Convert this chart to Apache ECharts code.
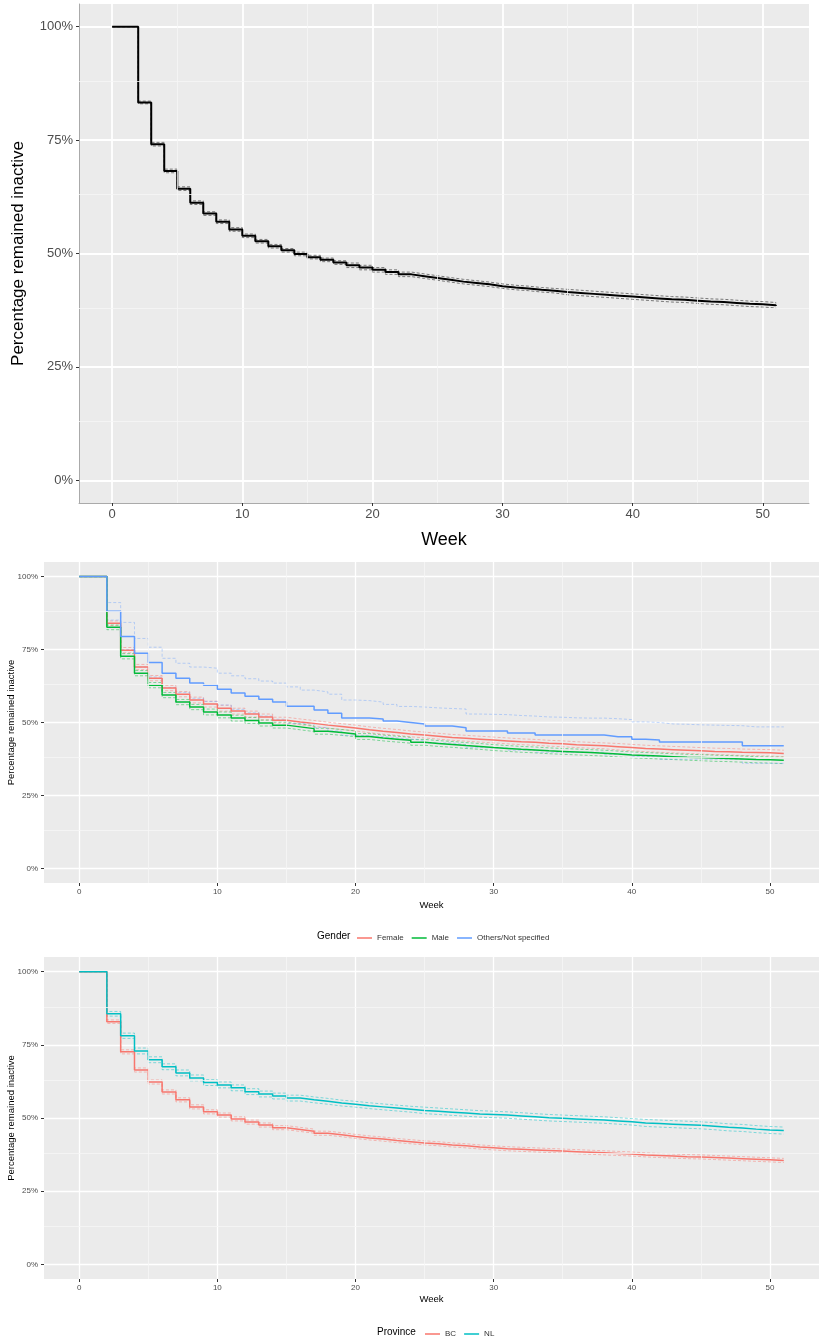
<!doctype html>
<html>
    <head>
        <meta charset="utf-8">
        <title>Percentage remained inactive</title>
        <style>
            html, body { margin: 0; padding: 0; background: #fff; }
            #main { width: 823px; height: 1339px; }
        </style>
    </head>
    <body>
        <div id="main"></div>
        <script src="https://cdn.jsdelivr.net/npm/echarts@6.0.0/dist/echarts.min.js"></script>
        <script>
            // weeks 0..51, one value per week (value after the drop at that week)
            var weeks = [0,1,2,3,4,5,6,7,8,9,10,11,12,13,14,15,16,17,18,19,20,21,22,23,24,25,
                26,27,28,29,30,31,32,33,34,35,36,37,38,39,40,41,42,43,44,45,46,47,48,49,50,51];
            var weekTicks = [0, 10, 20, 30, 40, 50];
            var weekMinor = [5, 15, 25, 35, 45];
            var pctTicks = [0, 0.25, 0.5, 0.75, 1];
            var pctMinor = [0.125, 0.375, 0.625, 0.875];

            // panel 1: everyone
            var allSurv = [1,1,0.833,0.741,0.682,0.643,0.612,0.588,0.570,0.553,0.539,0.527,0.516,0.507,0.499,0.492,0.486,0.480,0.474,0.469,0.464,0.459,0.454,0.450,0.446,0.442,0.438,0.435,0.432,0.428,0.425,0.423,0.420,0.418,0.415,0.413,0.411,0.409,0.407,0.405,0.403,0.401,0.399,0.398,0.396,0.394,0.393,0.391,0.389,0.388,0.386,0.384];
            var allUpper = [1,1,0.836,0.745,0.686,0.647,0.616,0.592,0.574,0.557,0.543,0.531,0.520,0.511,0.503,0.496,0.490,0.484,0.479,0.474,0.469,0.464,0.459,0.455,0.451,0.447,0.443,0.440,0.437,0.433,0.430,0.428,0.425,0.423,0.421,0.419,0.417,0.415,0.413,0.411,0.409,0.407,0.405,0.404,0.402,0.400,0.399,0.397,0.395,0.394,0.392,0.390];
            var allLower = [1,1,0.830,0.737,0.678,0.639,0.608,0.584,0.566,0.549,0.535,0.523,0.512,0.503,0.495,0.488,0.482,0.476,0.469,0.464,0.459,0.454,0.449,0.445,0.441,0.437,0.433,0.430,0.427,0.423,0.420,0.418,0.415,0.413,0.409,0.407,0.405,0.403,0.401,0.399,0.397,0.395,0.393,0.392,0.390,0.388,0.387,0.385,0.383,0.382,0.380,0.378];

            // panel 2: gender
            var femaleSurv = [1,1,0.840,0.748,0.690,0.652,0.618,0.597,0.577,0.563,0.549,0.539,0.529,0.519,0.508,0.502,0.497,0.491,0.486,0.481,0.475,0.470,0.466,0.461,0.457,0.453,0.449,0.446,0.443,0.440,0.437,0.434,0.432,0.429,0.427,0.424,0.422,0.420,0.417,0.414,0.411,0.409,0.407,0.405,0.403,0.401,0.400,0.398,0.397,0.396,0.394,0.393];
            var femaleUpper = [1,1,0.848,0.757,0.699,0.661,0.627,0.606,0.587,0.573,0.559,0.549,0.539,0.529,0.518,0.512,0.507,0.501,0.496,0.491,0.485,0.480,0.476,0.471,0.467,0.463,0.459,0.456,0.453,0.450,0.447,0.444,0.442,0.439,0.437,0.434,0.432,0.430,0.428,0.425,0.422,0.420,0.418,0.416,0.414,0.412,0.411,0.409,0.408,0.407,0.405,0.404];
            var femaleLower = [1,1,0.832,0.739,0.681,0.643,0.609,0.588,0.567,0.553,0.539,0.529,0.519,0.509,0.498,0.492,0.487,0.481,0.476,0.471,0.465,0.460,0.456,0.451,0.447,0.443,0.439,0.436,0.433,0.430,0.427,0.424,0.422,0.419,0.417,0.414,0.412,0.410,0.406,0.403,0.400,0.398,0.396,0.394,0.392,0.390,0.389,0.387,0.386,0.385,0.383,0.382];
            var maleSurv = [1,1,0.826,0.727,0.669,0.628,0.594,0.570,0.553,0.536,0.526,0.515,0.507,0.498,0.491,0.485,0.479,0.470,0.466,0.461,0.452,0.447,0.443,0.439,0.432,0.428,0.425,0.421,0.418,0.414,0.411,0.408,0.406,0.403,0.401,0.399,0.397,0.395,0.392,0.389,0.387,0.385,0.383,0.381,0.380,0.378,0.377,0.375,0.373,0.372,0.371,0.369];
            var maleUpper = [1,1,0.834,0.736,0.678,0.637,0.603,0.579,0.562,0.546,0.536,0.525,0.517,0.508,0.501,0.495,0.489,0.480,0.476,0.471,0.462,0.457,0.453,0.449,0.442,0.438,0.435,0.431,0.428,0.424,0.421,0.418,0.416,0.413,0.411,0.409,0.407,0.405,0.402,0.399,0.397,0.395,0.393,0.391,0.390,0.388,0.387,0.385,0.383,0.382,0.381,0.380];
            var maleLower = [1,1,0.818,0.718,0.660,0.619,0.585,0.561,0.544,0.526,0.516,0.505,0.497,0.488,0.481,0.475,0.469,0.460,0.456,0.451,0.442,0.437,0.433,0.429,0.422,0.418,0.415,0.411,0.408,0.404,0.401,0.398,0.396,0.393,0.391,0.389,0.387,0.385,0.382,0.379,0.377,0.375,0.373,0.371,0.369,0.367,0.366,0.364,0.362,0.361,0.359,0.358];
            var otherSurv = [1,1,0.881,0.795,0.737,0.706,0.669,0.652,0.635,0.628,0.614,0.601,0.590,0.580,0.570,0.556,0.556,0.543,0.532,0.515,0.515,0.512,0.505,0.500,0.495,0.488,0.488,0.482,0.471,0.471,0.471,0.464,0.464,0.457,0.457,0.457,0.457,0.457,0.451,0.451,0.443,0.440,0.433,0.433,0.433,0.433,0.433,0.433,0.420,0.420,0.420,0.420];
            var otherUpper = [1,1,0.911,0.843,0.788,0.758,0.720,0.703,0.690,0.686,0.669,0.660,0.650,0.642,0.635,0.622,0.611,0.605,0.597,0.577,0.575,0.570,0.562,0.555,0.553,0.550,0.548,0.546,0.529,0.528,0.527,0.524,0.522,0.519,0.518,0.516,0.515,0.515,0.513,0.510,0.502,0.500,0.495,0.494,0.492,0.491,0.490,0.489,0.485,0.485,0.485,0.485];
            var otherLower = [1,1,0.851,0.750,0.690,0.656,0.620,0.603,0.583,0.572,0.560,0.545,0.533,0.522,0.511,0.497,0.496,0.483,0.471,0.456,0.455,0.452,0.447,0.443,0.438,0.430,0.430,0.424,0.414,0.413,0.413,0.405,0.405,0.398,0.398,0.398,0.398,0.398,0.391,0.391,0.384,0.381,0.374,0.374,0.374,0.374,0.374,0.374,0.360,0.360,0.360,0.360];

            // panel 3: province
            var bcSurv = [1,1,0.829,0.726,0.664,0.623,0.589,0.562,0.538,0.521,0.510,0.497,0.486,0.476,0.467,0.461,0.455,0.448,0.443,0.437,0.432,0.428,0.423,0.419,0.415,0.412,0.408,0.405,0.401,0.398,0.395,0.393,0.391,0.389,0.387,0.385,0.383,0.381,0.379,0.377,0.374,0.372,0.370,0.368,0.367,0.365,0.363,0.361,0.359,0.357,0.355,0.353];
            var bcUpper = [1,1,0.835,0.733,0.671,0.630,0.596,0.569,0.545,0.528,0.517,0.504,0.493,0.483,0.474,0.468,0.462,0.455,0.450,0.444,0.439,0.435,0.430,0.426,0.422,0.419,0.415,0.412,0.408,0.405,0.402,0.400,0.398,0.396,0.394,0.392,0.390,0.388,0.386,0.384,0.381,0.379,0.377,0.375,0.374,0.372,0.370,0.368,0.366,0.364,0.362,0.360];
            var bcLower = [1,1,0.823,0.719,0.657,0.616,0.582,0.555,0.531,0.514,0.503,0.490,0.479,0.469,0.460,0.454,0.448,0.441,0.436,0.430,0.425,0.421,0.416,0.412,0.408,0.405,0.401,0.398,0.394,0.391,0.388,0.386,0.384,0.382,0.380,0.378,0.376,0.374,0.372,0.370,0.367,0.365,0.363,0.361,0.360,0.358,0.356,0.354,0.352,0.350,0.348,0.346];
            var nlSurv = [1,1,0.856,0.781,0.729,0.699,0.675,0.654,0.637,0.621,0.613,0.603,0.590,0.582,0.575,0.568,0.562,0.557,0.551,0.547,0.542,0.538,0.534,0.530,0.526,0.523,0.520,0.517,0.514,0.512,0.510,0.507,0.504,0.501,0.499,0.497,0.495,0.493,0.490,0.487,0.483,0.481,0.479,0.477,0.475,0.472,0.468,0.466,0.462,0.459,0.457,0.455];
            var nlUpper = [1,1,0.864,0.790,0.739,0.709,0.685,0.664,0.647,0.631,0.623,0.613,0.600,0.592,0.585,0.578,0.572,0.567,0.561,0.557,0.552,0.548,0.544,0.540,0.537,0.534,0.531,0.528,0.525,0.523,0.521,0.518,0.515,0.512,0.510,0.508,0.506,0.504,0.501,0.498,0.495,0.493,0.491,0.489,0.487,0.484,0.480,0.478,0.474,0.471,0.469,0.467];
            var nlLower = [1,1,0.848,0.772,0.719,0.689,0.665,0.644,0.627,0.611,0.603,0.593,0.580,0.572,0.565,0.558,0.552,0.547,0.541,0.537,0.532,0.528,0.524,0.520,0.515,0.512,0.509,0.506,0.503,0.501,0.499,0.496,0.493,0.490,0.488,0.486,0.484,0.482,0.479,0.476,0.471,0.469,0.467,0.465,0.463,0.460,0.456,0.454,0.450,0.447,0.445,0.443];

            var RED = '#F8766D', GREEN = '#00BA38', BLUE = '#619CFF', TEAL = '#00BFC4';
            var FONT = '"Liberation Sans", Arial, sans-serif';

            function pairs(vals) {
                return weeks.map(function (w, i) { return [w, vals[i]]; });
            }

            function stepLine(name, vals, grid, color, width, dashed, opacity) {
                return {
                    name: name,
                    type: 'line',
                    step: 'end',
                    xAxisIndex: grid,
                    yAxisIndex: grid,
                    symbol: 'none',
                    silent: true,
                    z: dashed ? 3 : 4,
                    lineStyle: {
                        color: color,
                        width: width,
                        type: dashed ? [3, 2] : 'solid',
                        opacity: opacity == null ? 1 : opacity
                    },
                    itemStyle: { color: color },
                    data: pairs(vals)
                };
            }

            // minor grid lines of the ggplot theme
            function minorGrid(grid) {
                var lines = [];
                weekMinor.forEach(function (w) { lines.push({ xAxis: w }); });
                pctMinor.forEach(function (p) { lines.push({ yAxis: p }); });
                return {
                    type: 'line',
                    xAxisIndex: grid,
                    yAxisIndex: grid,
                    data: [],
                    z: 1,
                    silent: true,
                    markLine: {
                        silent: true,
                        symbol: 'none',
                        label: { show: false },
                        animation: false,
                        lineStyle: { color: '#f6f6f6', width: 0.8, type: 'solid' },
                        data: lines
                    }
                };
            }

            function xAxis(grid, labelSize, nameSize, nameGap, lineShow, splitWidth) {
                return {
                    type: 'value',
                    gridIndex: grid,
                    min: -2.55,
                    max: 53.55,
                    name: 'Week',
                    nameLocation: 'middle',
                    nameGap: nameGap,
                    nameMoveOverlap: false,
                    nameTextStyle: { fontSize: nameSize, color: '#000', fontFamily: FONT },
                    axisLine: { show: lineShow, onZero: false, lineStyle: { color: '#aaa', width: 1 } },
                    axisTick: { show: true, length: 3, customValues: weekTicks, lineStyle: { color: '#333' } },
                    axisLabel: { customValues: weekTicks, fontSize: labelSize, color: '#4d4d4d', margin: 5, fontFamily: FONT },
                    splitLine: { show: true, lineStyle: { color: '#fff', width: splitWidth } }
                };
            }

            function yAxis(grid, labelSize, nameSize, nameGap, lineShow, splitWidth) {
                return {
                    type: 'value',
                    gridIndex: grid,
                    min: -0.05,
                    max: 1.05,
                    name: 'Percentage remained inactive',
                    nameLocation: 'middle',
                    nameGap: nameGap,
                    nameMoveOverlap: false,
                    nameTextStyle: { fontSize: nameSize, color: '#000', fontFamily: FONT },
                    axisLine: { show: lineShow, onZero: false, lineStyle: { color: '#aaa', width: 1 } },
                    axisTick: { show: true, length: 3, customValues: pctTicks, lineStyle: { color: '#333' } },
                    axisLabel: {
                        customValues: pctTicks,
                        fontSize: labelSize,
                        color: '#4d4d4d',
                        margin: 6,
                        fontFamily: FONT,
                        formatter: function (v) { return Math.round(v * 100) + '%'; }
                    },
                    splitLine: { show: true, lineStyle: { color: '#fff', width: splitWidth } }
                };
            }

            function grid(left, top, width, height) {
                return {
                    left: left, top: top, width: width, height: height,
                    show: true, backgroundColor: '#ebebeb', borderWidth: 0,
                    containLabel: false, outerBoundsMode: 'none'
                };
            }

            var chart = echarts.init(document.getElementById('main'), null, { renderer: 'canvas' });
            chart.setOption({
                animation: false,
                backgroundColor: '#fff',
                textStyle: { fontFamily: FONT },
                grid: [
                    grid(79, 4, 730, 499),
                    grid(44, 562, 775, 321),
                    grid(44, 957, 775, 322)
                ],
                xAxis: [
                    xAxis(0, 13, 18, 28, true, 1.8),
                    xAxis(1, 8, 9.5, 17, false, 1.3),
                    xAxis(2, 8, 9.5, 15, false, 1.3)
                ],
                yAxis: [
                    yAxis(0, 13, 17, 52, true, 1.8),
                    yAxis(1, 8, 9.5, 28, false, 1.3),
                    yAxis(2, 8, 9.5, 28, false, 1.3)
                ],
                title: [
                    { text: 'Gender', left: 312, top: 926, textStyle: { fontSize: 10, fontWeight: 'normal', color: '#000' } },
                    { text: 'Province', left: 372, top: 1322, textStyle: { fontSize: 10, fontWeight: 'normal', color: '#000' } }
                ],
                legend: [
                    {
                        data: ['Female', 'Male', 'Others/Not specified'],
                        left: 352, top: 929, icon: 'rect', itemWidth: 15, itemHeight: 1.5, itemGap: 8,
                        textStyle: { fontSize: 8, color: '#333' }
                    },
                    {
                        data: ['BC', 'NL'],
                        left: 420, top: 1325, icon: 'rect', itemWidth: 15, itemHeight: 1.5, itemGap: 8,
                        textStyle: { fontSize: 8, color: '#333' }
                    }
                ],
                series: [
                    minorGrid(0), minorGrid(1), minorGrid(2),

                    stepLine('All upper', allUpper, 0, '#777', 1, true),
                    stepLine('All lower', allLower, 0, '#777', 1, true),
                    stepLine('All', allSurv, 0, '#000', 2, false),

                    stepLine('Female upper', femaleUpper, 1, RED, 0.8, true, 0.6),
                    stepLine('Female lower', femaleLower, 1, RED, 0.8, true, 0.6),
                    stepLine('Male upper', maleUpper, 1, GREEN, 0.8, true, 0.6),
                    stepLine('Male lower', maleLower, 1, GREEN, 0.8, true, 0.6),
                    stepLine('Others upper', otherUpper, 1, BLUE, 0.8, true, 0.5),
                    stepLine('Others lower', otherLower, 1, BLUE, 0.8, true, 0.5),
                    stepLine('Female', femaleSurv, 1, RED, 1.5, false),
                    stepLine('Male', maleSurv, 1, GREEN, 1.5, false),
                    stepLine('Others/Not specified', otherSurv, 1, BLUE, 1.5, false),

                    stepLine('BC upper', bcUpper, 2, RED, 0.8, true, 0.6),
                    stepLine('BC lower', bcLower, 2, RED, 0.8, true, 0.6),
                    stepLine('NL upper', nlUpper, 2, TEAL, 0.8, true, 0.6),
                    stepLine('NL lower', nlLower, 2, TEAL, 0.8, true, 0.6),
                    stepLine('BC', bcSurv, 2, RED, 1.5, false),
                    stepLine('NL', nlSurv, 2, TEAL, 1.5, false)
                ]
            });

            window.addEventListener('resize', function () {
                chart.resize();
            });
        </script>
    </body>
</html>
